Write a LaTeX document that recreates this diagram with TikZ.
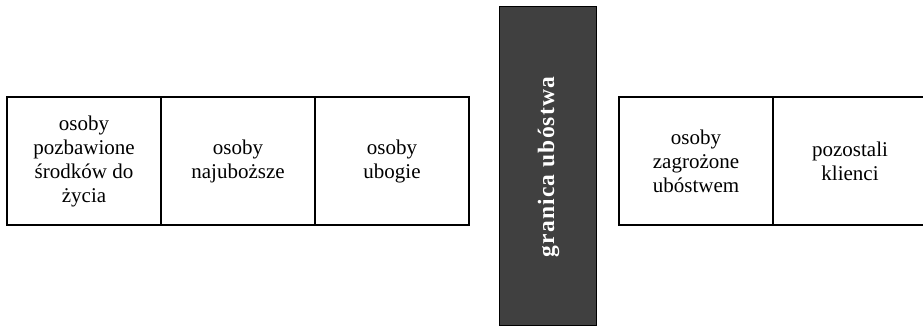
\documentclass[tikz,border=0pt]{standalone}
\usepackage{fontspec}
\setmainfont{Liberation Serif}
\definecolor{bardark}{HTML}{404040}
\begin{document}
\begin{tikzpicture}[x=1pt,y=-1pt,
  cell/.style={draw=black, line width=1.6pt, rectangle, minimum width=154pt,
    minimum height=128pt, align=center, inner sep=0pt,
    font=\fontsize{21}{24}\selectfont},
  barbox/.style={draw=black, line width=1pt, fill=bardark, rectangle,
    minimum width=97pt, minimum height=318pt, inner sep=0pt}]
\useasboundingbox (0,0) rectangle (923,326);
\clip (0,0) rectangle (923,326);
% group below the poverty line
\node[cell] (c1) at (84,161) {osoby\\pozbawione\\środków do\\życia};
\node[cell] (c2) at (238,161) {osoby\\najuboższe};
\node[cell] (c3) at (392,161) {osoby\\ubogie};
% the poverty line itself
\node[barbox] (bar) at (547.5,166) {};
\node[rotate=90, text=white, font=\fontsize{23.5}{27}\selectfont\bfseries\addfontfeatures{LetterSpace=5}] (barlabel) at ([xshift=1pt,yshift=-1pt]bar.center) {granica ubóstwa};
% group above the poverty line
\node[cell] (c4) at (696,161) {osoby\\zagrożone\\ubóstwem};
\node[cell] (c5) at (850,161) {pozostali\\klienci};
\end{tikzpicture}
\end{document}
